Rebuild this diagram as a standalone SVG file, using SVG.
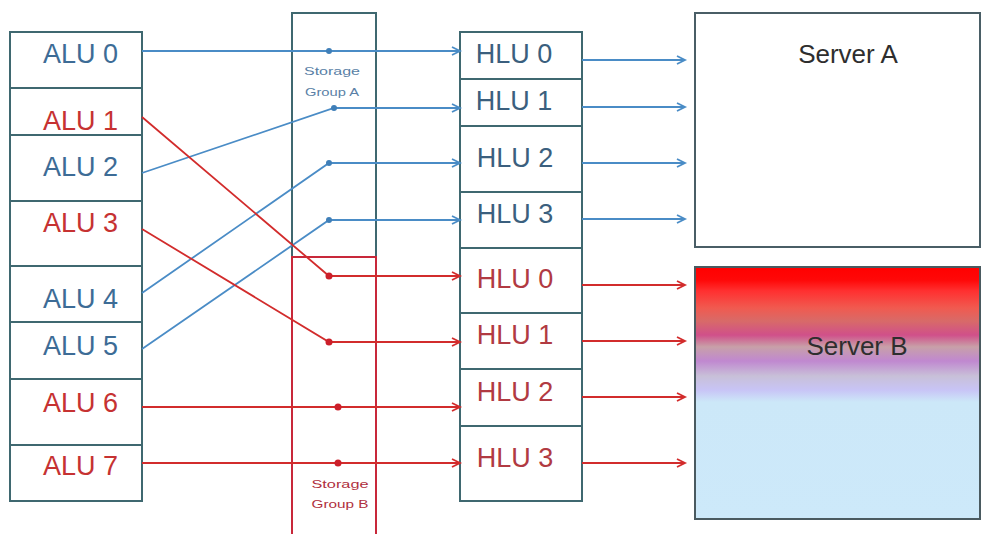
<svg xmlns="http://www.w3.org/2000/svg" width="981" height="534" viewBox="0 0 981 534">
<style>
text{font-family:"Liberation Sans",Arial,sans-serif;}
.box{fill:#ffffff;stroke:#3f6870;stroke-width:2;}
.div{stroke:#3f6870;stroke-width:2;fill:none;}
.lbl{font-size:27px;}
.alu{text-anchor:end;}
.hlu{text-anchor:middle;}
.tb{fill:#3d6c96;}
.tr{fill:#c63232;}
.hb{fill:#3b5f7e;}
.hr{fill:#b13a42;}
.cb{stroke:#4a8cc6;stroke-width:1.8;fill:none;}
.cr{stroke:#d22c2c;stroke-width:1.8;fill:none;}
.db{fill:#3f7fb8;}
.dr{fill:#cc1f2a;}
.sg{font-size:11px;text-anchor:middle;}
.srv{font-size:26px;text-anchor:middle;fill:#2e2e2e;}
</style>
<defs>
<marker id="ab" markerUnits="userSpaceOnUse" markerWidth="12" markerHeight="12" refX="9" refY="5" orient="auto">
<path d="M1,1 L9,5 L1,9" fill="none" stroke="#4a8cc6" stroke-width="1.8"/>
</marker>
<marker id="ar" markerUnits="userSpaceOnUse" markerWidth="12" markerHeight="12" refX="9" refY="5" orient="auto">
<path d="M1,1 L9,5 L1,9" fill="none" stroke="#d22c2c" stroke-width="1.8"/>
</marker>
<linearGradient id="gB" gradientUnits="userSpaceOnUse" x1="0" y1="267" x2="0" y2="519">
<stop offset="0" stop-color="#ff0000"/>
<stop offset="0.052" stop-color="#ff0808"/>
<stop offset="0.095" stop-color="#ff3030"/>
<stop offset="0.163" stop-color="#f05a50"/>
<stop offset="0.214" stop-color="#d86a68"/>
<stop offset="0.27" stop-color="#d0508a"/>
<stop offset="0.317" stop-color="#c8a0a8"/>
<stop offset="0.373" stop-color="#c088d0"/>
<stop offset="0.433" stop-color="#c8c0d8"/>
<stop offset="0.488" stop-color="#c8c4f6"/>
<stop offset="0.536" stop-color="#cce8f8"/>
<stop offset="1" stop-color="#cde9fa"/>
</linearGradient>
</defs>
<rect width="981" height="534" fill="#ffffff"/>

<g id="storage-group-a">
<path d="M292,257 V13 H376 V257" class="div"/>
<text class="sg" x="332" y="75" fill="#5a7fa6" textLength="56" lengthAdjust="spacingAndGlyphs">Storage</text>
<text class="sg" x="332" y="96" fill="#5a7fa6" textLength="54" lengthAdjust="spacingAndGlyphs">Group A</text>
</g>
<g id="storage-group-b">
<path d="M292,534 V257 H376 V534" fill="none" stroke="#c8283a" stroke-width="2"/>
<text class="sg" x="340" y="488" fill="#b03040" textLength="57" lengthAdjust="spacingAndGlyphs">Storage</text>
<text class="sg" x="340" y="508" fill="#b03040" textLength="57" lengthAdjust="spacingAndGlyphs">Group B</text>
</g>

<g id="alu-column">
<rect class="box" x="10" y="32" width="132" height="469"/>
<path class="div" d="M10,88 H142 M10,135 H142 M10,201 H142 M10,266 H142 M10,322 H142 M10,379 H142 M10,445 H142"/>
<text class="lbl alu tb" x="118" y="63">ALU 0</text>
<text class="lbl alu tr" x="118" y="130">ALU 1</text>
<text class="lbl alu tb" x="118" y="176">ALU 2</text>
<text class="lbl alu tr" x="118" y="232">ALU 3</text>
<text class="lbl alu tb" x="118" y="308">ALU 4</text>
<text class="lbl alu tb" x="118" y="355">ALU 5</text>
<text class="lbl alu tr" x="118" y="412">ALU 6</text>
<text class="lbl alu tr" x="118" y="475">ALU 7</text>
</g>

<g id="hlu-column">
<rect class="box" x="460" y="32" width="122" height="469"/>
<path class="div" d="M460,79 H582 M460,126 H582 M460,192 H582 M460,248 H582 M460,313 H582 M460,369 H582 M460,426 H582"/>
<text class="lbl hlu hb" x="514" y="63">HLU 0</text>
<text class="lbl hlu hb" x="514" y="110">HLU 1</text>
<text class="lbl hlu hb" x="515" y="167">HLU 2</text>
<text class="lbl hlu hb" x="515" y="223">HLU 3</text>
<text class="lbl hlu hr" x="515" y="288">HLU 0</text>
<text class="lbl hlu hr" x="515" y="344">HLU 1</text>
<text class="lbl hlu hr" x="515" y="401">HLU 2</text>
<text class="lbl hlu hr" x="515" y="467">HLU 3</text>
</g>

<g id="server-a">
<rect x="695" y="13" width="285" height="234" fill="#ffffff" stroke="#4a5e66" stroke-width="2"/>
<text class="srv" x="848" y="63">Server A</text>
</g>
<g id="server-b">
<rect x="695" y="267" width="285" height="252" fill="url(#gB)" stroke="#4a5a60" stroke-width="2"/>
<text class="srv" x="857" y="355" fill="#3a2030">Server B</text>
</g>

<g id="connectors">
<path class="cb" d="M142,51 H460" marker-end="url(#ab)"/>
<path class="cb" d="M142,173 L334,108 H460" marker-end="url(#ab)"/>
<path class="cb" d="M142,293 L329,163 H460" marker-end="url(#ab)"/>
<path class="cb" d="M142,349 L329,220 H460" marker-end="url(#ab)"/>
<path class="cr" d="M142,117 L329,276 H460" marker-end="url(#ar)"/>
<path class="cr" d="M142,229 L329,342 H460" marker-end="url(#ar)"/>
<path class="cr" d="M142,407 H460" marker-end="url(#ar)"/>
<path class="cr" d="M142,463 H460" marker-end="url(#ar)"/>
<circle class="db" cx="329" cy="51" r="3"/>
<circle class="db" cx="334" cy="108" r="3"/>
<circle class="db" cx="329" cy="163" r="3"/>
<circle class="db" cx="329" cy="220" r="3"/>
<circle class="dr" cx="329" cy="276" r="3.5"/>
<circle class="dr" cx="329" cy="342" r="3.5"/>
<circle class="dr" cx="338" cy="407" r="3.5"/>
<circle class="dr" cx="338" cy="463" r="3.5"/>
<path class="cb" d="M582,60 H685" marker-end="url(#ab)"/>
<path class="cb" d="M582,107 H685" marker-end="url(#ab)"/>
<path class="cb" d="M582,163 H685" marker-end="url(#ab)"/>
<path class="cb" d="M582,219 H685" marker-end="url(#ab)"/>
<path class="cr" d="M582,285 H685" marker-end="url(#ar)"/>
<path class="cr" d="M582,341 H685" marker-end="url(#ar)"/>
<path class="cr" d="M582,397 H685" marker-end="url(#ar)"/>
<path class="cr" d="M582,463 H685" marker-end="url(#ar)"/>
</g>
</svg>
